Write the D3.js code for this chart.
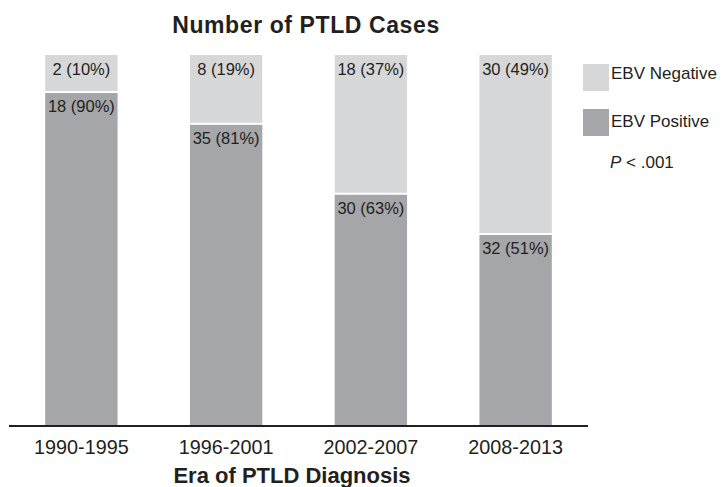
<!DOCTYPE html>
<html><head><meta charset="utf-8">
<script src="https://cdn.jsdelivr.net/npm/d3@7"></script>
<style>body{margin:0;background:#fff;} text{font-family:"Liberation Sans",Arial,sans-serif;fill:#231f20;}</style>
</head><body><svg id="c" width="721" height="487"></svg>
<script>
const eras = ["1990-1995","1996-2001","2002-2007","2008-2013"];
const ebvNegative = [2, 8, 18, 30];
const ebvPositive = [18, 35, 30, 32];
const negPct = ["10%","19%","37%","49%"];
const posPct = ["90%","81%","63%","51%"];
const seriesNames = ["EBV Negative","EBV Positive"];
const colors = {neg:"#d6d7d9", pos:"#a5a6a9"};

const svg = d3.select("#c");
const x = d3.scaleBand().domain(eras).range([9, 588]).paddingInner(0.5).paddingOuter(0.25);
const y = d3.scaleLinear().domain([0, 1]).range([425, 55]);

const data = eras.map((e,i)=>{
  const tot = ebvNegative[i]+ebvPositive[i];
  return {era:e, posFrac:ebvPositive[i]/tot, neg:ebvNegative[i], pos:ebvPositive[i], np:negPct[i], pp:posPct[i]};
});

svg.selectAll("rect.neg").data(data).join("rect").attr("class","neg")
  .attr("x", d=>x(d.era)).attr("width", x.bandwidth())
  .attr("y", y(1)).attr("height", d=>y(d.posFrac)-y(1)-1)
  .attr("fill", colors.neg);
svg.selectAll("rect.pos").data(data).join("rect").attr("class","pos")
  .attr("x", d=>x(d.era)).attr("width", x.bandwidth())
  .attr("y", d=>y(d.posFrac)+1).attr("height", d=>y(0)-y(d.posFrac)-1)
  .attr("fill", colors.pos);

svg.selectAll("text.nl").data(data).join("text").attr("class","nl")
  .attr("x", d=>x(d.era)+x.bandwidth()/2).attr("y", y(1)+20)
  .attr("text-anchor","middle").style("font-size","16.5px")
  .text(d=>`${d.neg} (${d.np})`);
svg.selectAll("text.pl").data(data).join("text").attr("class","pl")
  .attr("x", d=>x(d.era)+x.bandwidth()/2).attr("y", d=>y(d.posFrac)+20)
  .attr("text-anchor","middle").style("font-size","16.5px")
  .text(d=>`${d.pos} (${d.pp})`);

const ax = svg.append("g").attr("transform","translate(0,426)")
  .call(d3.axisBottom(x).tickSize(0).tickPadding(14));
ax.select(".domain").attr("stroke","#231f20").attr("stroke-width",1.8).attr("d","M9,0H588");
ax.selectAll(".tick text").style("font-size","19.8px").style("font-family","'Liberation Sans',Arial,sans-serif").attr("fill","#231f20");

svg.append("text").attr("x",306).attr("y",33).attr("text-anchor","middle")
  .style("font-size","23px").style("font-weight","bold").style("letter-spacing","0.6px").text("Number of PTLD Cases");
svg.append("text").attr("x",292).attr("y",483).attr("text-anchor","middle")
  .style("font-size","22px").style("font-weight","bold").text("Era of PTLD Diagnosis");

const lg = svg.append("g");
[["neg",64,79],["pos",109,127]].forEach(([k,yy,ty],i)=>{
  lg.append("rect").attr("x",583).attr("y",yy).attr("width",26).attr("height",27).attr("fill",colors[k]);
  lg.append("text").attr("x",611).attr("y",ty).style("font-size","17px").text(seriesNames[i]);
});
const p = lg.append("text").attr("x",610).attr("y",168).style("font-size","17px");
p.append("tspan").style("font-style","italic").text("P");
p.append("tspan").text(" < .001");
</script></body></html>
